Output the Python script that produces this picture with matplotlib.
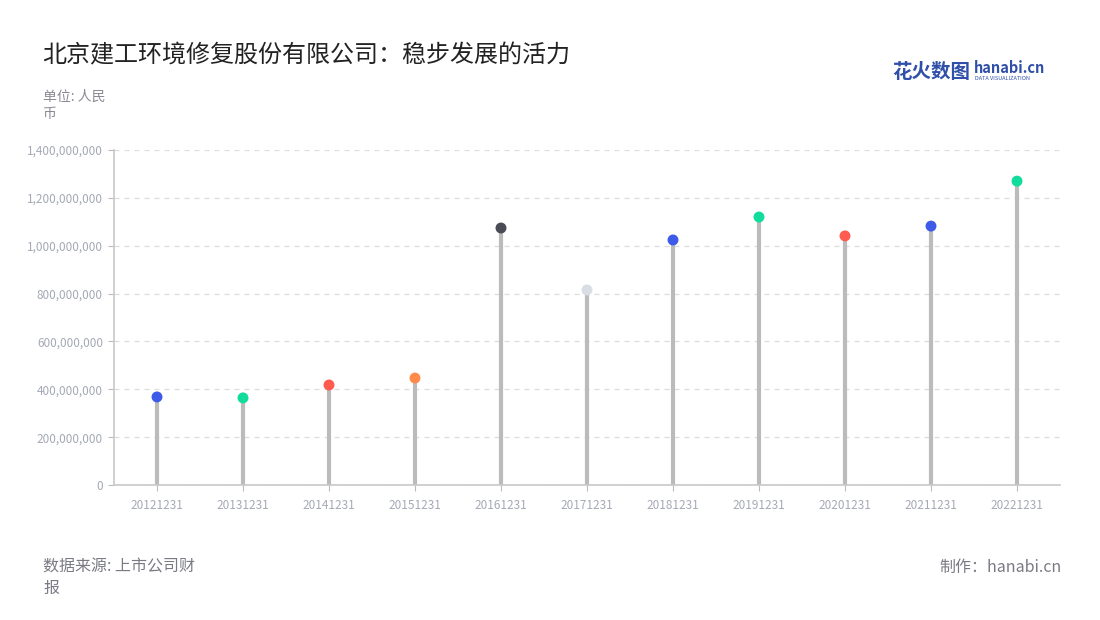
import matplotlib.pyplot as plt
from matplotlib.ticker import FuncFormatter

plt.rcParams['font.family'] = ['Noto Sans CJK SC', 'DejaVu Sans']

# data
dates = ['20121231', '20131231', '20141231', '20151231', '20161231', '20171231',
         '20181231', '20191231', '20201231', '20211231', '20221231']
values = [368e6, 364e6, 418e6, 447e6, 1074e6, 815e6, 1024e6, 1120e6, 1041e6, 1082e6, 1270e6]
dot_colors = ['#3d5be8', '#12dc9c', '#ff5b4f', '#ff8a4a', '#4b4b55', '#d9dde4',
              '#3d5be8', '#12dc9c', '#ff5b4f', '#3d5be8', '#12dc9c']

fig = plt.figure(figsize=(11, 6.2), dpi=100)
ax = fig.add_axes([114 / 1100, 1 - 485 / 620, 946 / 1100, 335 / 620])

x = range(len(dates))
ax.vlines(x, 0, values, color='#bbbbbb', linewidth=3, zorder=2)
ax.scatter(x, values, s=62, c=dot_colors, zorder=3, linewidths=0)

ax.set_xlim(-0.5, len(dates) - 0.5)
ax.set_ylim(0, 1.4e9)
ax.set_yticks([i * 2e8 for i in range(8)])
ax.yaxis.set_major_formatter(FuncFormatter(lambda v, p: f'{int(v):,}'))
ax.set_xticks(list(x))
ax.set_xticklabels(dates)
ax.grid(axis='y', color='#dddddd', linestyle=(0, (4, 4)), linewidth=0.9, zorder=0)
ax.tick_params(axis='x', colors='#bbbbbb', labelcolor='#a5a9b5', labelsize=8.5, length=4, pad=6)
ax.tick_params(axis='y', colors='#bbbbbb', labelcolor='#a5a9b5', labelsize=8.5, length=4, pad=4)
for s in ['top', 'right']:
    ax.spines[s].set_visible(False)
for s in ['left', 'bottom']:
    ax.spines[s].set_color('#c8c8c8')
    ax.spines[s].set_linewidth(1.2)

# texts
fig.text(42 / 1100, 1 - 55 / 620, '北京建工环境修复股份有限公司：稳步发展的活力', fontsize=17.3,
         color='#222222', va='center', ha='left')
fig.text(43 / 1100, 1 - 105 / 620, '单位: 人民\n币', fontsize=10, color='#8a8a95',
         va='center', ha='left', linespacing=1.3)
fig.text(43 / 1100, 1 - 578 / 620, '数据来源: 上市公司财\n报', fontsize=11.5, color='#7a7a85',
         va='center', ha='left', linespacing=1.35)
fig.text(1062 / 1100, 1 - 567 / 620, '制作：hanabi.cn', fontsize=11.5, color='#7a7a85',
         va='center', ha='right')

# logo
fig.text(892 / 1100, 1 - 72 / 620, '花火数图', fontsize=14, color='#2f4fa8',
         fontweight='bold', va='center', ha='left')
fig.text(974 / 1100, 1 - 68 / 620, 'hanabi.cn', fontsize=10.5, color='#2f4fa8',
         fontweight='bold', va='center', ha='left')
fig.text(975 / 1100, 1 - 79 / 620, 'DATA VISUALIZATION', fontsize=4, color='#2f4fa8',
         va='center', ha='left')

fig.savefig('out.png', dpi=100)
